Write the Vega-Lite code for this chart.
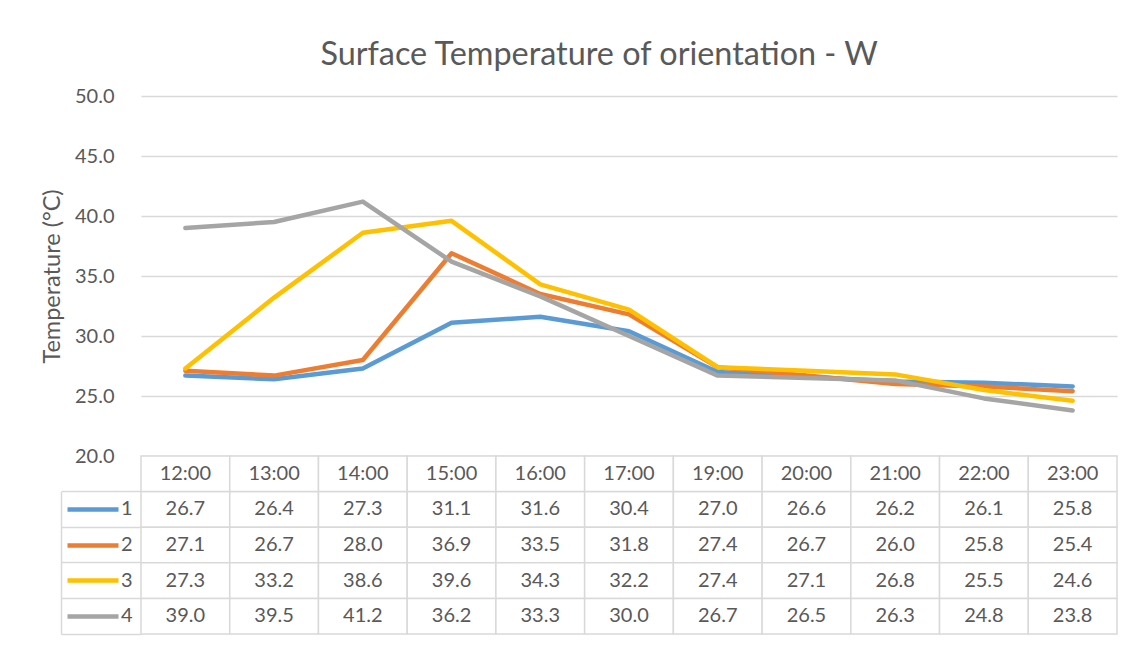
{
  "$schema": "https://vega.github.io/schema/vega-lite/v6.json",
  "background": "white",
  "padding": {"left": 40, "top": 38, "right": 20, "bottom": 10},
  "title": {
    "text": "Surface Temperature of orientation - W",
    "font": "Lato",
    "fontSize": 32.4,
    "fontWeight": "normal",
    "color": "#595959",
    "anchor": "middle",
    "offset": 15,
    "dx": 20
  },
  "config": {"view": {"stroke": null}, "font": "Lato"},
  "datasets": {
    "temps": [
      {"time": "12:00", "series": "1", "temp": 26.7},
      {"time": "13:00", "series": "1", "temp": 26.4},
      {"time": "14:00", "series": "1", "temp": 27.3},
      {"time": "15:00", "series": "1", "temp": 31.1},
      {"time": "16:00", "series": "1", "temp": 31.6},
      {"time": "17:00", "series": "1", "temp": 30.4},
      {"time": "19:00", "series": "1", "temp": 27.0},
      {"time": "20:00", "series": "1", "temp": 26.6},
      {"time": "21:00", "series": "1", "temp": 26.2},
      {"time": "22:00", "series": "1", "temp": 26.1},
      {"time": "23:00", "series": "1", "temp": 25.8},
      {"time": "12:00", "series": "2", "temp": 27.1},
      {"time": "13:00", "series": "2", "temp": 26.7},
      {"time": "14:00", "series": "2", "temp": 28.0},
      {"time": "15:00", "series": "2", "temp": 36.9},
      {"time": "16:00", "series": "2", "temp": 33.5},
      {"time": "17:00", "series": "2", "temp": 31.8},
      {"time": "19:00", "series": "2", "temp": 27.4},
      {"time": "20:00", "series": "2", "temp": 26.7},
      {"time": "21:00", "series": "2", "temp": 26.0},
      {"time": "22:00", "series": "2", "temp": 25.8},
      {"time": "23:00", "series": "2", "temp": 25.4},
      {"time": "12:00", "series": "3", "temp": 27.3},
      {"time": "13:00", "series": "3", "temp": 33.2},
      {"time": "14:00", "series": "3", "temp": 38.6},
      {"time": "15:00", "series": "3", "temp": 39.6},
      {"time": "16:00", "series": "3", "temp": 34.3},
      {"time": "17:00", "series": "3", "temp": 32.2},
      {"time": "19:00", "series": "3", "temp": 27.4},
      {"time": "20:00", "series": "3", "temp": 27.1},
      {"time": "21:00", "series": "3", "temp": 26.8},
      {"time": "22:00", "series": "3", "temp": 25.5},
      {"time": "23:00", "series": "3", "temp": 24.6},
      {"time": "12:00", "series": "4", "temp": 39.0},
      {"time": "13:00", "series": "4", "temp": 39.5},
      {"time": "14:00", "series": "4", "temp": 41.2},
      {"time": "15:00", "series": "4", "temp": 36.2},
      {"time": "16:00", "series": "4", "temp": 33.3},
      {"time": "17:00", "series": "4", "temp": 30.0},
      {"time": "19:00", "series": "4", "temp": 26.7},
      {"time": "20:00", "series": "4", "temp": 26.5},
      {"time": "21:00", "series": "4", "temp": 26.3},
      {"time": "22:00", "series": "4", "temp": 24.8},
      {"time": "23:00", "series": "4", "temp": 23.8}
    ],
    "times": [
      {"time": "12:00"}, {"time": "13:00"}, {"time": "14:00"}, {"time": "15:00"},
      {"time": "16:00"}, {"time": "17:00"}, {"time": "19:00"}, {"time": "20:00"},
      {"time": "21:00"}, {"time": "22:00"}, {"time": "23:00"}
    ]
  },
  "bounds": "flush",
  "spacing": 0,
  "vconcat": [
    {
      "width": 976,
      "height": 360,
      "data": {"name": "temps"},
      "mark": {"type": "line", "strokeWidth": 4.5, "strokeCap": "round", "strokeJoin": "round"},
      "encoding": {
        "x": {
          "field": "time",
          "type": "ordinal",
          "scale": {
            "type": "point",
            "padding": 0.5,
            "domain": ["12:00", "13:00", "14:00", "15:00", "16:00", "17:00", "19:00", "20:00", "21:00", "22:00", "23:00"]
          },
          "axis": null
        },
        "y": {
          "field": "temp",
          "type": "quantitative",
          "scale": {"domain": [20, 50], "nice": false, "zero": false},
          "axis": {
            "values": [20, 25, 30, 35, 40, 45, 50],
            "format": ".1f",
            "labelFont": "Lato",
            "labelFontSize": 20,
            "labelColor": "#595959",
            "labelPadding": 27,
            "ticks": false,
            "tickSize": 0,
            "domain": false,
            "grid": true,
            "gridColor": "#D9D9D9",
            "gridWidth": 1.5,
            "title": "Temperature (°C)",
            "titleFont": "Lato",
            "titleFontSize": 23.5,
            "titleFontWeight": "normal",
            "titleColor": "#595959",
            "titlePadding": 10
          }
        },
        "color": {
          "field": "series",
          "type": "nominal",
          "scale": {"domain": ["1", "2", "3", "4"], "range": ["#5B9BD5", "#ED7D31", "#FFC000", "#A5A5A5"]},
          "legend": null
        }
      }
    },
    {
      "width": 976,
      "height": 178,
      "resolve": {"axis": {"y": "independent"}},
      "layer": [
        {
          "data": {"name": "temps"},
          "mark": {"type": "rect", "fill": "white", "stroke": "#D9D9D9", "strokeWidth": 1.5},
          "encoding": {
            "x": {
              "field": "time",
              "type": "ordinal",
              "scale": {
                "domain": ["12:00", "13:00", "14:00", "15:00", "16:00", "17:00", "19:00", "20:00", "21:00", "22:00", "23:00"],
                "paddingInner": 0,
                "paddingOuter": 0
              },
              "axis": null
            },
            "y": {
              "field": "series",
              "type": "nominal",
              "scale": {"domain": ["header", "1", "2", "3", "4"], "paddingInner": 0, "paddingOuter": 0},
              "axis": {
                "orient": "left",
                "title": null,
                "domain": false,
                "grid": false,
                "labelExpr": "datum.value == 'header' ? '' : datum.value",
                "labelFont": "Lato",
                "labelFontSize": 20,
                "labelColor": "#595959",
                "labelPadding": -65,
                "tickSize": 74,
                "tickWidth": 4.5,
                "tickDash": [0, 23, 51, 100],
                "tickColor": {
                  "condition": [
                    {"test": "datum.value == '1'", "value": "#5B9BD5"},
                    {"test": "datum.value == '2'", "value": "#ED7D31"},
                    {"test": "datum.value == '3'", "value": "#FFC000"},
                    {"test": "datum.value == '4'", "value": "#A5A5A5"}
                  ],
                  "value": "transparent"
                }
              }
            }
          }
        },
        {
          "data": {"name": "temps"},
          "mark": {"type": "text", "font": "Lato", "fontSize": 20, "color": "#595959", "baseline": "middle"},
          "encoding": {
            "x": {"field": "time", "type": "ordinal", "axis": null},
            "y": {
              "field": "series",
              "type": "nominal",
              "axis": {
                "orient": "left",
                "title": null,
                "labels": false,
                "domain": false,
                "grid": false,
                "bandPosition": 1,
                "tickSize": 80,
                "tickWidth": 1.5,
                "tickColor": "#D9D9D9"
              }
            },
            "text": {"field": "temp", "type": "quantitative", "format": ".1f"}
          }
        },
        {
          "data": {"name": "times"},
          "mark": {"type": "rect", "fill": "white", "stroke": "#D9D9D9", "strokeWidth": 1.5},
          "encoding": {
            "x": {"field": "time", "type": "ordinal", "axis": null},
            "y": {
              "datum": "header",
              "type": "nominal",
              "axis": {
                "orient": "left",
                "title": null,
                "labels": false,
                "ticks": false,
                "grid": false,
                "domain": true,
                "domainColor": "#D9D9D9",
                "domainWidth": 1.5,
                "domainDash": [0, 35.6, 300, 0],
                "offset": 80
              }
            }
          }
        },
        {
          "data": {"name": "times"},
          "mark": {"type": "text", "font": "Lato", "fontSize": 20, "color": "#595959", "baseline": "middle"},
          "encoding": {
            "x": {"field": "time", "type": "ordinal", "axis": null},
            "y": {"datum": "header", "type": "nominal", "axis": null},
            "text": {"field": "time", "type": "nominal"}
          }
        }
      ]
    }
  ]
}
